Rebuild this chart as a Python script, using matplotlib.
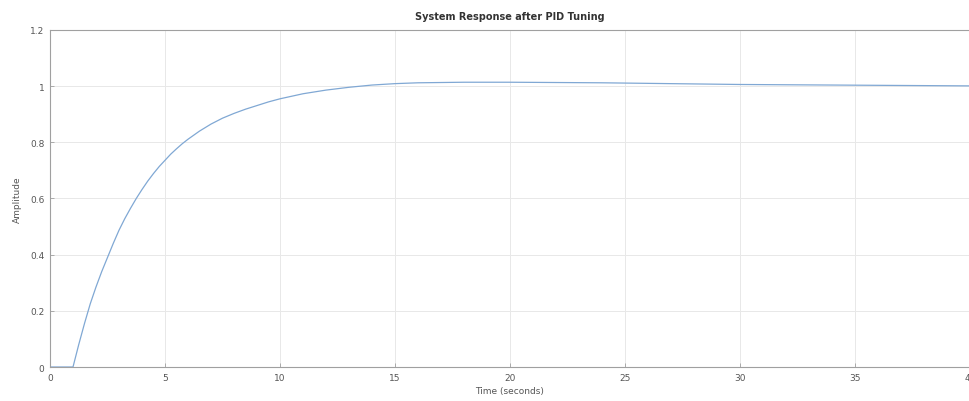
import numpy as np
import matplotlib
matplotlib.use("Agg")
import matplotlib.pyplot as plt

#-step response (time in s, amplitude)
t_s = [0, 1.0, 1.25, 1.5, 1.75, 2.0, 2.25, 2.5, 2.75, 3.0, 3.25, 3.5, 3.75,
       4.0, 4.25, 4.5, 4.75, 5.0, 5.25, 5.5, 5.75, 6.0, 6.5, 7.0, 7.5, 8.0,
       8.5, 9.0, 9.5, 10.0, 11.0, 12.0, 13.0, 14.0, 15.0, 16.0, 18.0, 20.0,
       22.0, 24.0, 26.0, 28.0, 30.0, 32.0, 34.0, 36.0, 38.0, 40.0]
amp = [0, 0, 0.08, 0.155, 0.225, 0.285, 0.34, 0.39, 0.44, 0.487, 0.528,
       0.565, 0.6, 0.632, 0.662, 0.689, 0.714, 0.736, 0.758, 0.777, 0.795,
       0.811, 0.84, 0.865, 0.886, 0.903, 0.918, 0.931, 0.944, 0.955, 0.973,
       0.986, 0.996, 1.004, 1.009, 1.012, 1.014, 1.014, 1.013, 1.012, 1.010,
       1.008, 1.006, 1.005, 1.004, 1.003, 1.002, 1.001]

xticks = [0, 5, 10, 15, 20, 25, 30, 35, 40]
xticklabels = ["0", "5", "10", "15", "20", "25", "30", "35", "40"]
yticks = [0, 0.2, 0.4, 0.6, 0.8, 1.0, 1.2]
yticklabels = ["0", "0.2", "0.4", "0.6", "0.8", "1", "1.2"]

fig = plt.figure(figsize=(9.69, 4.02), dpi=100)
ax = fig.add_axes([50/969, 1-368/402, 920/969, 337/402])

ax.plot(t_s, amp, color=(0.50, 0.66, 0.83), lw=0.9)

ax.set_xlim(0, 40)
ax.set_ylim(0, 1.2)
ax.set_xticks(xticks)
ax.set_xticklabels(xticklabels)
ax.set_yticks(yticks)
ax.set_yticklabels(yticklabels)

ax.grid(True, color="#e8e8e8", lw=0.7)
ax.set_axisbelow(True)
for s in ax.spines.values():
    s.set_color("#a0a0a0")
    s.set_linewidth(0.8)
ax.tick_params(direction="in", length=3, width=0.6, color="#a0a0a0",
               labelsize=6.5, labelcolor="#555555", pad=4)

ax.set_title("System Response after PID Tuning", fontsize=7, color="#333333",
             fontweight="semibold", pad=8)
ax.set_xlabel("Time (seconds)", fontsize=6.5, color="#555555", labelpad=3)
ax.set_ylabel("Amplitude", fontsize=6.5, color="#555555", labelpad=6)

fig.savefig("out.png", dpi=100)
